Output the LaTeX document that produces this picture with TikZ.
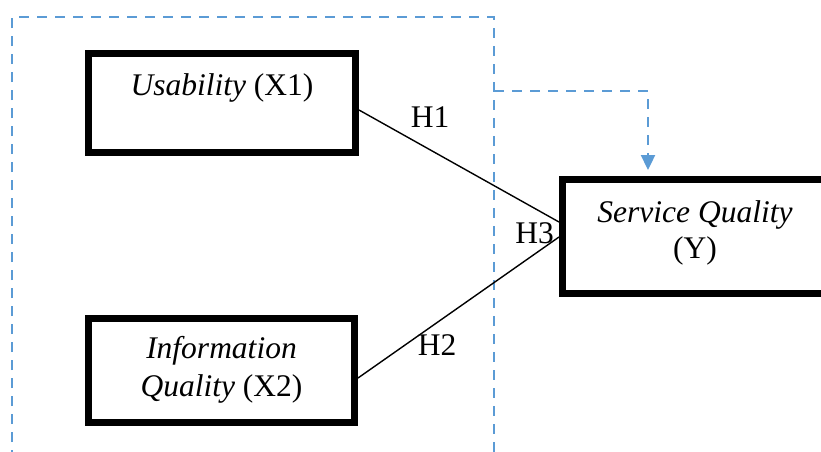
\documentclass[tikz,border=0pt]{standalone}
\usepackage{fontspec}
\setmainfont{Liberation Serif}
\usetikzlibrary{arrows.meta}
\definecolor{frameblue}{HTML}{5B9BD5}

\begin{document}
\begin{tikzpicture}[x=1pt, y=-1pt,
    varbox/.style={draw=black, line width=6.7pt, inner sep=0pt, fill=white},
    vartext/.style={align=center, inner sep=0pt},
    hyplabel/.style={inner sep=0pt},
    path/.style={line width=1.4pt},
    groupline/.style={frameblue, line width=2.3pt, dash pattern=on 10pt off 8pt}]
  \useasboundingbox (0,0) rectangle (821,451);
  \clip (0,0) rectangle (821,451);
  \fontsize{31.5}{36}\selectfont

  % dashed frame round the two predictors
  \draw[groupline] (12,460) -- (12,17) -- (494,17) -- (494,460);

  % variables
  \node[varbox, minimum width=267.3pt, minimum height=99.3pt] (x1) at (222,103) {};
  \node[vartext, anchor=base] (x1txt) at ([yshift=8pt]x1.center) {\textit{Usability} (X1)};

  \node[varbox, minimum width=266.3pt, minimum height=104.3pt] (x2) at (221.5,370.5) {};
  \node[vartext] (x2txt) at ([yshift=1pt]x2.center) {\textit{Information}\\[2pt]\textit{Quality} (X2)};

  \node[varbox, minimum width=265.3pt, minimum height=114.3pt] (y) at (695,236.5) {};
  \node[vartext] (ytxt) at ([yshift=3.5pt]y.center) {\textit{Service Quality}\\(Y)};

  % hypotheses
  \draw[path] ([yshift=-7pt]x1.east) -- ([yshift=14.5pt]y.west);
  \draw[path] ([yshift=-7.5pt]x2.east) -- ([yshift=-0.5pt]y.west);

  \node[hyplabel] (h1) at (430,117.5) {H1};
  \node[hyplabel] (h2) at (437,345.5) {H2};
  \node[hyplabel] (h3) at (534.5,233) {H3};

  % simultaneous effect
  \coordinate (corner) at (494,91);
  \coordinate (tip) at (648,170);
  \draw[groupline, -{Triangle[width=14pt,length=15pt]}] (corner) -- (corner -| tip) -- (tip);
\end{tikzpicture}
\end{document}
